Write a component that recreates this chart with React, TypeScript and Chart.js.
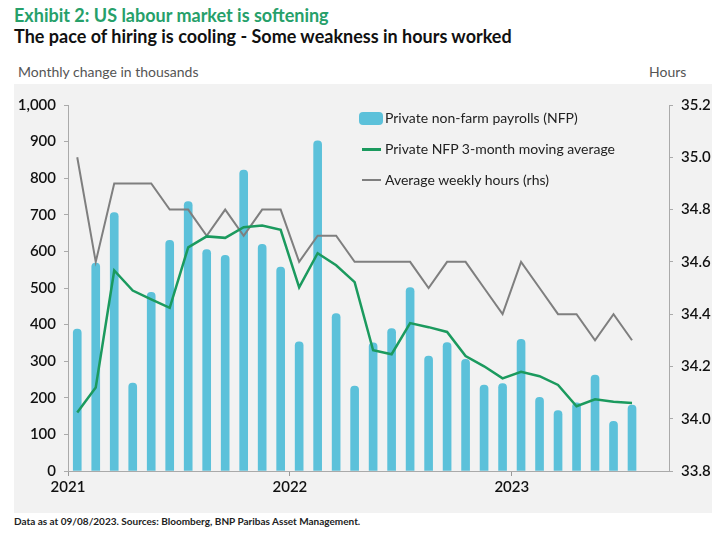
import React, { useEffect, useRef } from "react";
import { Chart, registerables } from "chart.js";

Chart.register(...registerables);

const months = [
  "Jan 2021", "Feb 2021", "Mar 2021", "Apr 2021", "May 2021", "Jun 2021",
  "Jul 2021", "Aug 2021", "Sep 2021", "Oct 2021", "Nov 2021", "Dec 2021",
  "Jan 2022", "Feb 2022", "Mar 2022", "Apr 2022", "May 2022", "Jun 2022",
  "Jul 2022", "Aug 2022", "Sep 2022", "Oct 2022", "Nov 2022", "Dec 2022",
  "Jan 2023", "Feb 2023", "Mar 2023", "Apr 2023", "May 2023", "Jun 2023",
  "Jul 2023",
];
const yearTicks = ["2021", "2022", "2023"];

const payrolls = [
  388, 568, 706, 240, 488, 630, 736, 605, 589, 822, 619, 557,
  353, 902, 430, 232, 350, 389, 501, 314, 351, 305, 235, 239,
  360, 201, 165, 186, 262, 136, 180,
];
const movingAvg = [
  160, 228, 548, 493, 469, 446, 611, 641, 637, 666, 671, 659,
  502, 595, 562, 516, 330, 319, 404, 393, 380, 314, 286, 253,
  271, 259, 235, 177, 196, 189, 186,
];
const weeklyHours = [
  35.0, 34.6, 34.9, 34.9, 34.9, 34.8, 34.8, 34.7, 34.8, 34.7, 34.8, 34.8,
  34.6, 34.7, 34.7, 34.6, 34.6, 34.6, 34.6, 34.5, 34.6, 34.6, 34.5, 34.4,
  34.6, 34.5, 34.4, 34.4, 34.3, 34.4, 34.3,
];

const BAR_COLOR = "#5cc1da";
const GREEN = "#1b9a5e";
const GREY = "#7f7f7f";
const FONT = "Lato, 'Open Sans', sans-serif";

export default function App() {
  const ref = useRef<HTMLCanvasElement>(null);

  useEffect(() => {
    const pts = (arr: number[]) => arr.map((v, i) => ({ x: i + 0.5, y: v }));
    const tickFont = { family: FONT, size: 15, weight: "600" as any };
    const chart = new Chart(ref.current as HTMLCanvasElement, {
      type: "bar",
      data: {
        labels: months,
        datasets: [
          {
            type: "line",
            label: "Private NFP 3-month moving average",
            data: pts(movingAvg) as any,
            borderColor: GREEN,
            borderWidth: 2.5,
            pointRadius: 0,
            tension: 0,
            yAxisID: "y",
          },
          {
            type: "line",
            label: "Average weekly hours (rhs)",
            data: pts(weeklyHours) as any,
            borderColor: GREY,
            borderWidth: 2,
            pointRadius: 0,
            tension: 0,
            yAxisID: "y1",
          },
          {
            type: "bar",
            label: "Private non-farm payrolls (NFP)",
            data: pts(payrolls) as any,
            backgroundColor: BAR_COLOR,
            barThickness: 8,
            borderRadius: 4,
            yAxisID: "y",
          },
        ],
      },
      options: {
        animation: false,
        responsive: false,
        layout: { padding: { top: 21, left: 0, right: 0, bottom: 0 } },
        plugins: { legend: { display: false }, tooltip: { enabled: false } },
        scales: {
          x: {
            type: "linear",
            min: 0,
            max: 32.5,
            offset: false,
            ticks: {
              stepSize: 12,
              includeBounds: false,
              autoSkip: false,
              maxRotation: 0,
              padding: 2,
              color: "#111",
              font: tickFont,
              callback: (v: any) => (Number(v) % 12 === 0 ? yearTicks[Number(v) / 12] : ""),
            } as any,
            grid: { offset: false, drawOnChartArea: false, drawTicks: true, tickLength: 5, color: "#999" },
            border: { color: "#aaa" },
            afterFit: (s: any) => { s.height = 42; },
          },
          y: {
            position: "left",
            min: 0,
            max: 1000,
            ticks: {
              stepSize: 100,
              padding: 8,
              color: "#111",
              font: tickFont,
              callback: (v: any) => Number(v).toLocaleString("en-US"),
            },
            grid: { drawOnChartArea: false, drawTicks: true, tickLength: 4, color: "#aaa" },
            border: { color: "#aaa" },
            afterFit: (s: any) => { s.width = 54; },
          },
          y1: {
            position: "right",
            min: 33.8,
            max: 35.2,
            ticks: {
              stepSize: 0.2,
              padding: 8,
              color: "#111",
              font: tickFont,
              callback: (v: any) => Number(v).toFixed(1),
            },
            grid: { drawOnChartArea: false, drawTicks: true, tickLength: 4, color: "#aaa" },
            border: { color: "#aaa" },
            afterFit: (s: any) => { s.width = 43; },
          },
        },
      },
    });
    return () => chart.destroy();
  }, []);

  const abs = (o: React.CSSProperties): React.CSSProperties => ({ position: "absolute", whiteSpace: "nowrap", ...o });

  return (
    <div style={{ position: "absolute", left: 0, top: 0, width: 725, height: 534, background: "#fff", fontFamily: FONT, overflow: "hidden" }}>
      <div style={abs({ left: 14, top: 5, fontSize: 18, lineHeight: "20px", fontWeight: 700, color: "#26a06a" })}>
        Exhibit 2: US labour market is softening
      </div>
      <div style={abs({ left: 14, top: 26, fontSize: 18, lineHeight: "20px", fontWeight: 700, color: "#111" })}>
        The pace of hiring is cooling - Some weakness in hours worked
      </div>
      <div style={abs({ left: 18, top: 63, fontSize: 14, lineHeight: "18px", color: "#555" })}>
        Monthly change in thousands
      </div>
      <div style={abs({ left: 649, top: 63, fontSize: 14, lineHeight: "18px", color: "#555" })}>
        Hours
      </div>
      <div style={abs({ left: 14, top: 84, width: 698, height: 429, background: "#f2f2f2" })}>
        <canvas ref={ref} width={698} height={429} style={{ display: "block" }} />
      </div>
      <div style={abs({ left: 359, top: 112, width: 24, height: 13, borderRadius: 4, background: BAR_COLOR })} />
      <div style={abs({ left: 385, top: 109, fontSize: 14, lineHeight: "18px", color: "#222" })}>
        Private non-farm payrolls (NFP)
      </div>
      <div style={abs({ left: 362, top: 148, width: 19, height: 2.5, background: GREEN })} />
      <div style={abs({ left: 385, top: 140, fontSize: 14, lineHeight: "18px", color: "#222" })}>
        Private NFP 3-month moving average
      </div>
      <div style={abs({ left: 362, top: 179, width: 19, height: 2, background: GREY })} />
      <div style={abs({ left: 385, top: 171, fontSize: 14, lineHeight: "18px", color: "#222" })}>
        Average weekly hours (rhs)
      </div>
      <div style={abs({ left: 14, top: 514, fontSize: 10, lineHeight: "14px", fontWeight: 700, color: "#222" })}>
        Data as at 09/08/2023. Sources: Bloomberg, BNP Paribas Asset Management.
      </div>
    </div>
  );
}
